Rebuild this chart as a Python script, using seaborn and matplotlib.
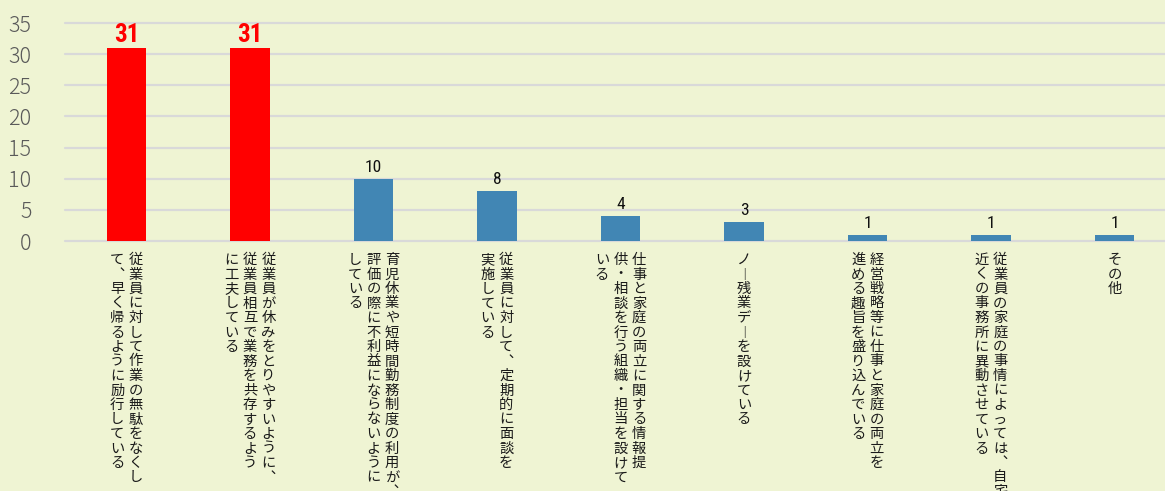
import matplotlib
matplotlib.use("Agg")
import matplotlib.pyplot as plt
import seaborn as sns
import pandas as pd
from matplotlib import transforms, font_manager

# ---- data ----
categories = [
    "従業員に対して作業の無駄をなくして、早く帰るように励行している",
    "従業員が休みをとりやすいように、従業員相互で業務を共存するように工夫している",
    "育児休業や短時間勤務制度の利用が、評価の際に不利益にならないようにしている",
    "従業員に対して、定期的に面談を実施している",
    "仕事と家庭の両立に関する情報提供・相談を行う組織・担当を設けている",
    "ノー残業デーを設けている",
    "経営戦略等に仕事と家庭の両立を進める趣旨を盛り込んでいる",
    "従業員の家庭の事情によっては、自宅近くの事務所に異動させている",
    "その他",
]
values = [31, 31, 10, 8, 4, 3, 1, 1, 1]
highlight = [True, True, False, False, False, False, False, False, False]
label_columns = [
    ["従業員に対して作業の無駄をなくし", "て、早く帰るように励行している"],
    ["従業員が休みをとりやすいように、", "従業員相互で業務を共存するよう", "に工夫している"],
    ["育児休業や短時間勤務制度の利用が、", "評価の際に不利益にならないように", "している"],
    ["従業員に対して、定期的に面談を", "実施している"],
    ["仕事と家庭の両立に関する情報提", "供・相談を行う組織・担当を設けて", "いる"],
    ["ノー残業デーを設けている"],
    ["経営戦略等に仕事と家庭の両立を", "進める趣旨を盛り込んでいる"],
    ["従業員の家庭の事情によっては、自宅", "近くの事務所に異動させている"],
    ["その他"],
]
yticks = [0, 5, 10, 15, 20, 25, 30, 35]

BG = "#eff4d3"
RED = "#ff0000"
BLUE = "#4186b4"
GRID = "#d9d9d9"

sns.set_theme(style="white")
plt.rcParams["font.family"] = ["Noto Sans CJK JP", "DejaVu Sans"]

avail = {f.name for f in font_manager.fontManager.ttflist}
narrow = None
for cand in ["Liberation Sans Narrow", "DejaVu Sans Condensed", "Roboto Condensed", "Noto Sans CJK JP"]:
    if cand in avail:
        narrow = cand
        break

W, H = 1165, 491
fig = plt.figure(figsize=(W / 100, H / 100), dpi=100)
fig.patch.set_facecolor(BG)
ax = fig.add_axes([64.75 / W, 250 / H, 9 * 123.5 / W, 218 / H])
ax.set_facecolor(BG)

df = pd.DataFrame({"cat": categories, "val": values})
palette = {c: (RED if h else BLUE) for c, h in zip(categories, highlight)}
sns.barplot(data=df, x="cat", y="val", hue="cat", palette=palette,
            width=0.316, legend=False, ax=ax, saturation=1, linewidth=0)

ax.set_xlim(-0.5, len(categories) - 0.5)
ax.set_ylim(0, 35)
ax.set_yticks(yticks)
ax.set_xticks([])
ax.set_xlabel("")
ax.set_ylabel("")
ax.yaxis.grid(True, color=GRID, linewidth=1.6)
ax.set_axisbelow(True)
for ln in ax.get_ygridlines():
    ln.set_clip_on(False)
for s in ax.spines.values():
    s.set_visible(False)
ax.tick_params(axis="y", length=0, pad=24, labelsize=15.5, labelcolor="#5a5a5a")
for t in ax.get_yticklabels():
    t.set_fontweight("light")

for cont, h in zip(ax.containers, highlight):
    if h:
        ax.bar_label(cont, padding=1, color=RED, fontsize=18, fontweight="bold",
                     family=[narrow, "DejaVu Sans"])
    else:
        ax.bar_label(cont, padding=3, color="#111111", fontsize=12.5,
                     family=[narrow, "DejaVu Sans"])

# vertical (tategaki) category labels
vmap = {"、": "︑", "ー": "︱"}
base = transforms.blended_transform_factory(ax.transData, ax.transAxes)
col_gap = 18.5
pitch = 14.5
top = 19
for i, cols in enumerate(label_columns):
    n = len(cols)
    for j, col in enumerate(cols):
        dx = ((n - 1) / 2 - j) * col_gap
        for k, ch in enumerate(col):
            tr = transforms.offset_copy(base, fig=fig, x=dx, y=-(top + k * pitch), units="dots")
            ax.text(i, 0, vmap.get(ch, ch), transform=tr, ha="center", va="center",
                    fontsize=10.3, color="#1a1a1a", clip_on=False)

fig.savefig("out.png", dpi=100, facecolor=BG)
